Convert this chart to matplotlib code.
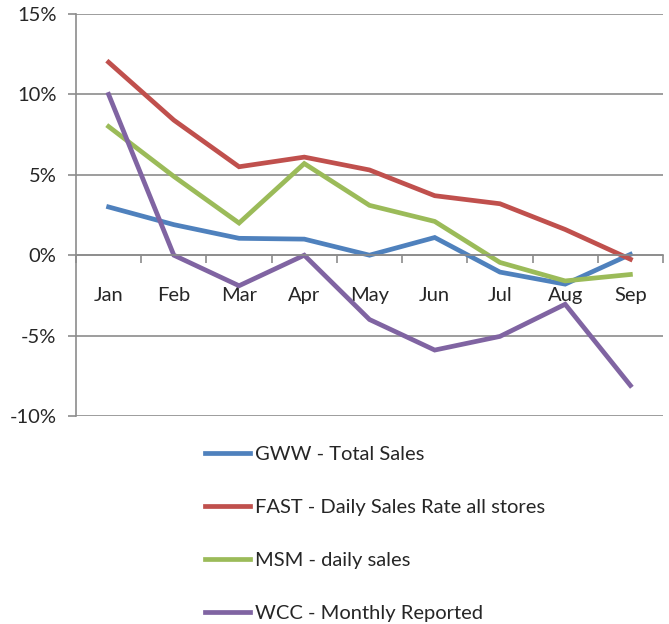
import matplotlib
matplotlib.use('Agg')
import matplotlib.pyplot as plt
import numpy as np

plt.rcParams['font.family'] = ['Lato', 'DejaVu Sans']

months = ['Jan', 'Feb', 'Mar', 'Apr', 'May', 'Jun', 'Jul', 'Aug', 'Sep']
gww = [3.0, 1.9, 1.05, 1.0, 0.0, 1.1, -1.05, -1.8, 0.05]
fast = [12.0, 8.4, 5.5, 6.1, 5.3, 3.7, 3.2, 1.6, -0.25]
msm = [8.0, 4.9, 2.0, 5.7, 3.1, 2.1, -0.45, -1.6, -1.2]
wcc = [10.0, 0.0, -1.9, 0.0, -4.0, -5.9, -5.05, -3.05, -8.1]

series = [
    ('GWW - Total Sales', gww, '#4F81BD'),
    ('FAST - Daily Sales Rate all stores', fast, '#C0504D'),
    ('MSM - daily sales', msm, '#9BBB59'),
    ('WCC - Monthly Reported', wcc, '#8064A2'),
]

fig = plt.figure(figsize=(6.69, 6.24), dpi=100)
ax = fig.add_axes([76 / 669, 1 - 416 / 624, (663 - 76) / 669, (416 - 14) / 624])

x = np.arange(len(months))
for name, vals, col in series:
    ax.plot(x, vals, color=col, lw=3.4, label=name, solid_joinstyle='miter')

ax.set_xlim(-0.5, len(months) - 0.5)
ax.set_ylim(-10, 15)

grid_col = '#8c8c8c'
ax.set_yticks(range(-10, 16, 5))
ax.set_yticklabels(['%d%%' % v for v in range(-10, 16, 5)])
ax.yaxis.grid(True, color=grid_col, lw=1.2)
ax.tick_params(axis='y', length=6, color=grid_col, width=1.2, labelsize=14.5,
               labelcolor='#262626', pad=8)

# category axis crosses at 0
ax.spines['bottom'].set_position(('data', 0))
ax.spines['bottom'].set_color(grid_col)
ax.spines['bottom'].set_linewidth(1.2)
ax.spines['left'].set_color(grid_col)
ax.spines['left'].set_linewidth(1.2)
ax.spines['top'].set_visible(False)
ax.spines['right'].set_visible(False)
ax.set_xticks(np.arange(-0.5, len(months), 1))
ax.set_xticklabels([])
ax.set_xticks(x, minor=True)
ax.set_xticklabels(months, minor=True)
ax.tick_params(axis='x', which='major', length=6, color=grid_col, width=1.2, direction='out')
ax.tick_params(axis='x', which='minor', length=0, labelsize=14.5, labelcolor='#262626', pad=23)
ax.set_axisbelow(True)

leg = fig.legend(loc='upper left', bbox_to_anchor=(205 / 669, 1 - 446 / 624),
                 frameon=False, fontsize=14.5, handlelength=2.25, handletextpad=0.25,
                 labelspacing=1.78, borderaxespad=0, borderpad=0)
for t in leg.get_texts():
    t.set_color('#262626')

fig.savefig('out.png', dpi=100)
